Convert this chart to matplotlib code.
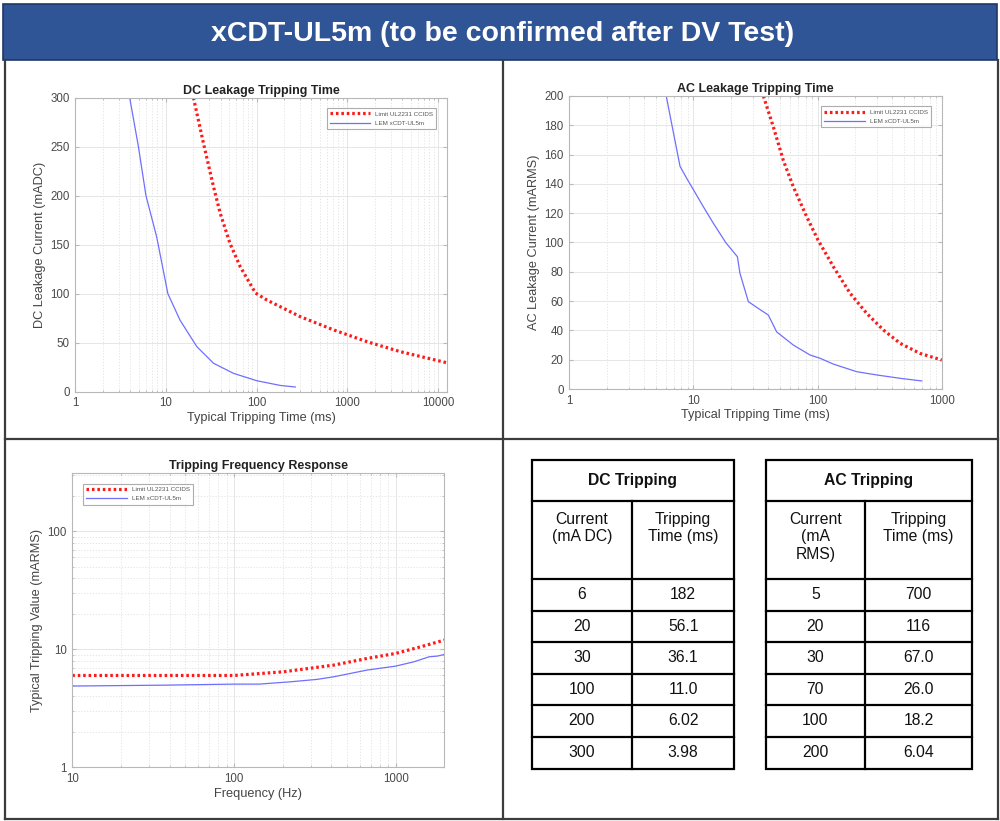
import matplotlib
matplotlib.use("Agg")
import matplotlib.pyplot as plt
from matplotlib.ticker import FixedLocator, FixedFormatter, NullFormatter, LogLocator
from matplotlib.patches import Rectangle

plt.rcParams['font.family'] = ['Liberation Sans', 'DejaVu Sans']

# ---------------- data ----------------
main_title = "xCDT-UL5m (to be confirmed after DV Test)"
legend_labels = ["Limit UL2231 CCIDS", "LEM xCDT-UL5m"]

# DC leakage tripping time (ms) vs current (mADC)
dc_limit_t = [20.1, 26, 33.5, 39.7, 51, 66, 96.7, 100, 130, 304, 710, 1656, 3866, 12600]
dc_limit_i = [300, 253, 209, 182, 151, 127.5, 101, 100, 93.5, 76.5, 63, 51, 40.8, 29.5]
dc_lem_t = [3.98, 4.97, 6.02, 7.9, 10.5, 14.3, 21.9, 33.5, 55.7, 100.6, 182, 267]
dc_lem_i = [300, 250, 200, 158, 100, 73, 46, 29, 18.7, 11.2, 6.4, 4.8]

# AC leakage tripping time (ms) vs current (mARMS)
ac_limit_t = [36.6, 44, 53, 63.8, 81.7, 100.8, 134, 183, 249, 339, 462, 669, 1000]
ac_limit_i = [200, 179, 156, 138, 117.6, 101.7, 83.5, 65.3, 51.6, 40.3, 31.2, 24.3, 19.8]
ac_lem_t = [6.04, 6.68, 7.8, 8.8, 10, 12, 14.5, 18.2, 22.6, 23.7, 27.7, 33.3, 40.1, 46.8,
            63.8, 87, 104.6, 134, 207, 299, 462, 690]
ac_lem_i = [200, 181, 152, 144, 136, 124.5, 113, 100, 90.3, 79, 59.6, 55, 50.5, 39,
            30, 23.2, 21, 17, 11.8, 9.6, 7.3, 5.5]

# Frequency response (Hz) vs tripping value (mARMS)
fr_limit_f = [10, 20, 50, 100, 203, 415, 667, 1000, 1429, 2000]
fr_limit_v = [6.0, 6.0, 6.0, 6.0, 6.45, 7.35, 8.37, 9.22, 10.5, 11.96]
fr_lem_f = [10, 38, 100, 143, 223, 327, 415, 667, 1000, 1300, 1611, 1815, 2000]
fr_lem_v = [4.88, 4.97, 5.07, 5.07, 5.3, 5.56, 5.85, 6.67, 7.2, 7.84, 8.64, 8.76, 9.04]

# Tables
dc_table_title = "DC Tripping"
dc_table_header = ["Current\n(mA DC)", "Tripping\nTime (ms)"]
dc_table_current = ["6", "20", "30", "100", "200", "300"]
dc_table_time = ["182", "56.1", "36.1", "11.0", "6.02", "3.98"]
ac_table_title = "AC Tripping"
ac_table_header = ["Current\n(mA\nRMS)", "Tripping\nTime (ms)"]
ac_table_current = ["5", "20", "30", "70", "100", "200"]
ac_table_time = ["700", "116", "67.0", "26.0", "18.2", "6.04"]

# ---------------- figure ----------------
W, H = 1000, 821
fig = plt.figure(figsize=(W / 100, H / 100), dpi=100)
fig.patch.set_facecolor('white')

over = fig.add_axes([0, 0, 1, 1])
over.set_xlim(0, W)
over.set_ylim(H, 0)
over.axis('off')
over.patch.set_alpha(0)

# title bar
over.add_patch(Rectangle((3, 4), 994, 56, facecolor='#2F5597', edgecolor='#1f3864', lw=1.2))
over.text(503, 34, main_title, color='white', fontsize=20.5, fontweight='bold',
          ha='center', va='center', family=['Liberation Sans Narrow', 'Liberation Sans'])

# panel borders
bc = '#3c3c3c'
blw = 1.6
over.plot([4.5, 4.5], [60, 819], color=bc, lw=blw)
over.plot([997.5, 997.5], [60, 819], color=bc, lw=blw)
over.plot([4.5, 997.5], [819, 819], color=bc, lw=blw)
over.plot([502.7, 502.7], [60, 819], color=bc, lw=blw)
over.plot([4.5, 997.5], [439, 439], color=bc, lw=blw)


def ax_px(l, t, r, b):
    return fig.add_axes([l / W, 1 - b / H, (r - l) / W, (b - t) / H])


red = '#ff1a1a'
blue = '#6f6fff'
tick_col = '#4a4a4a'
spine_col = '#b8b8b8'
dots = (0, (0.8, 0.9))


def style(ax):
    for s in ax.spines.values():
        s.set_color(spine_col)
        s.set_linewidth(0.8)
    ax.tick_params(which='both', direction='in', top=True, right=True, colors=spine_col,
                   labelcolor=tick_col, labelsize=8.3, length=3, pad=4)
    ax.tick_params(which='minor', length=1.5)
    ax.grid(True, which='major', color='#e6e6e6', lw=0.7)
    ax.set_axisbelow(True)


def legend(ax, loc, anchor):
    lg = ax.legend(loc=loc, bbox_to_anchor=anchor, fontsize=4.5, frameon=True, fancybox=False,
                   edgecolor='#999999', handlelength=6.5, borderpad=0.5, labelspacing=0.6,
                   handletextpad=0.8, labelcolor='#555555')
    lg.get_frame().set_linewidth(0.8)


def log_ticks(ax, axis, majors, labels):
    a = ax.xaxis if axis == 'x' else ax.yaxis
    a.set_major_locator(FixedLocator(majors))
    a.set_major_formatter(FixedFormatter(labels))
    a.set_minor_locator(LogLocator(base=10, subs=range(2, 10), numticks=50))
    a.set_minor_formatter(NullFormatter())


TFS = 9
LFS = 9.2

# ---- DC plot ----
ax1 = ax_px(75.3, 97.7, 447, 391.7)
ax1.set_xscale('log')
ax1.plot(dc_limit_t, dc_limit_i, linestyle=dots, color=red, lw=2.3, label=legend_labels[0])
ax1.plot(dc_lem_t, dc_lem_i, color=blue, lw=0.9, label=legend_labels[1])
ax1.set_xlim(1, 12600)
ax1.set_ylim(0, 300)
log_ticks(ax1, 'x', [1, 10, 100, 1000, 10000], ['1', '10', '100', '1000', '10000'])
ax1.set_yticks([0, 50, 100, 150, 200, 250, 300])
style(ax1)
ax1.grid(True, which='minor', axis='x', color='#e0e0e0', lw=0.6, linestyle=(0, (1.5, 2)))
ax1.set_title("DC Leakage Tripping Time", fontsize=TFS, fontweight='bold', pad=3, color='#222222')
ax1.set_xlabel("Typical Tripping Time (ms)", fontsize=LFS, color='#444444', labelpad=2)
ax1.set_ylabel("DC Leakage Current (mADC)", fontsize=LFS, color='#444444', labelpad=3)
legend(ax1, 'upper right', (0.98, 0.975))

# ---- AC plot ----
ax2 = ax_px(569.3, 96, 941.7, 389)
ax2.set_xscale('log')
ax2.plot(ac_limit_t, ac_limit_i, linestyle=dots, color=red, lw=2.3, label=legend_labels[0])
ax2.plot(ac_lem_t, ac_lem_i, color=blue, lw=0.9, label=legend_labels[1])
ax2.set_xlim(1, 1000)
ax2.set_ylim(0, 200)
log_ticks(ax2, 'x', [1, 10, 100, 1000], ['1', '10', '100', '1000'])
ax2.set_yticks(range(0, 201, 20))
style(ax2)
ax2.grid(True, which='minor', axis='x', color='#e0e0e0', lw=0.6, linestyle=(0, (1.5, 2)))
ax2.set_title("AC Leakage Tripping Time", fontsize=TFS, fontweight='bold', pad=3, color='#222222')
ax2.set_xlabel("Typical Tripping Time (ms)", fontsize=LFS, color='#444444', labelpad=2)
ax2.set_ylabel("AC Leakage Current (mARMS)", fontsize=LFS, color='#444444', labelpad=3)
legend(ax2, 'upper right', (0.98, 0.975))

# ---- Frequency plot ----
ax3 = ax_px(72.3, 473.3, 444.3, 767.3)
ax3.set_xscale('log')
ax3.set_yscale('log')
ax3.plot(fr_limit_f, fr_limit_v, linestyle=dots, color=red, lw=2.3, label=legend_labels[0])
ax3.plot(fr_lem_f, fr_lem_v, color=blue, lw=0.9, label=legend_labels[1])
ax3.set_xlim(10, 2000)
ax3.set_ylim(1, 310)
log_ticks(ax3, 'x', [10, 100, 1000], ['10', '100', '1000'])
log_ticks(ax3, 'y', [1, 10, 100], ['1', '10', '100'])
style(ax3)
ax3.grid(True, which='minor', color='#e0e0e0', lw=0.6, linestyle=(0, (1.5, 2)))
ax3.set_title("Tripping Frequency Response", fontsize=TFS, fontweight='bold', pad=3, color='#222222')
ax3.set_xlabel("Frequency (Hz)", fontsize=LFS, color='#444444', labelpad=2)
ax3.set_ylabel("Typical Tripping Value (mARMS)", fontsize=LFS, color='#444444', labelpad=3)
legend(ax3, 'upper left', (0.02, 0.975))


# ---- Tables ----
def draw_table(x0, xm, x1, title, header, col1, col2):
    ys = [460, 501, 578.7, 610.7, 641.7, 673.7, 705, 736.7, 768.7]
    lw = 1.6
    fs = 11.3
    over.add_patch(Rectangle((x0, ys[0]), x1 - x0, ys[-1] - ys[0], fill=False, edgecolor='black', lw=lw))
    for y in ys[1:-1]:
        over.plot([x0, x1], [y, y], color='black', lw=lw)
    over.plot([xm, xm], [ys[1], ys[-1]], color='black', lw=lw)
    over.text((x0 + x1) / 2, (ys[0] + ys[1]) / 2, title, fontsize=fs, fontweight='bold',
              ha='center', va='center', color='#111111')
    c1 = (x0 + xm) / 2
    c2 = (xm + x1) / 2
    over.text(c1, 512, header[0], fontsize=fs, ha='center', va='top', color='#111111', linespacing=1.2)
    over.text(c2, 512, header[1], fontsize=fs, ha='center', va='top', color='#111111', linespacing=1.2)
    for k, (a, b) in enumerate(zip(col1, col2)):
        yc = (ys[2 + k] + ys[3 + k]) / 2
        over.text(c1, yc, a, fontsize=fs, ha='center', va='center', color='#111111')
        over.text(c2, yc, b, fontsize=fs, ha='center', va='center', color='#111111')


draw_table(531.7, 632, 734.3, dc_table_title, dc_table_header, dc_table_current, dc_table_time)
draw_table(765.7, 865, 972.3, ac_table_title, ac_table_header, ac_table_current, ac_table_time)

fig.savefig("out.png", dpi=100)
